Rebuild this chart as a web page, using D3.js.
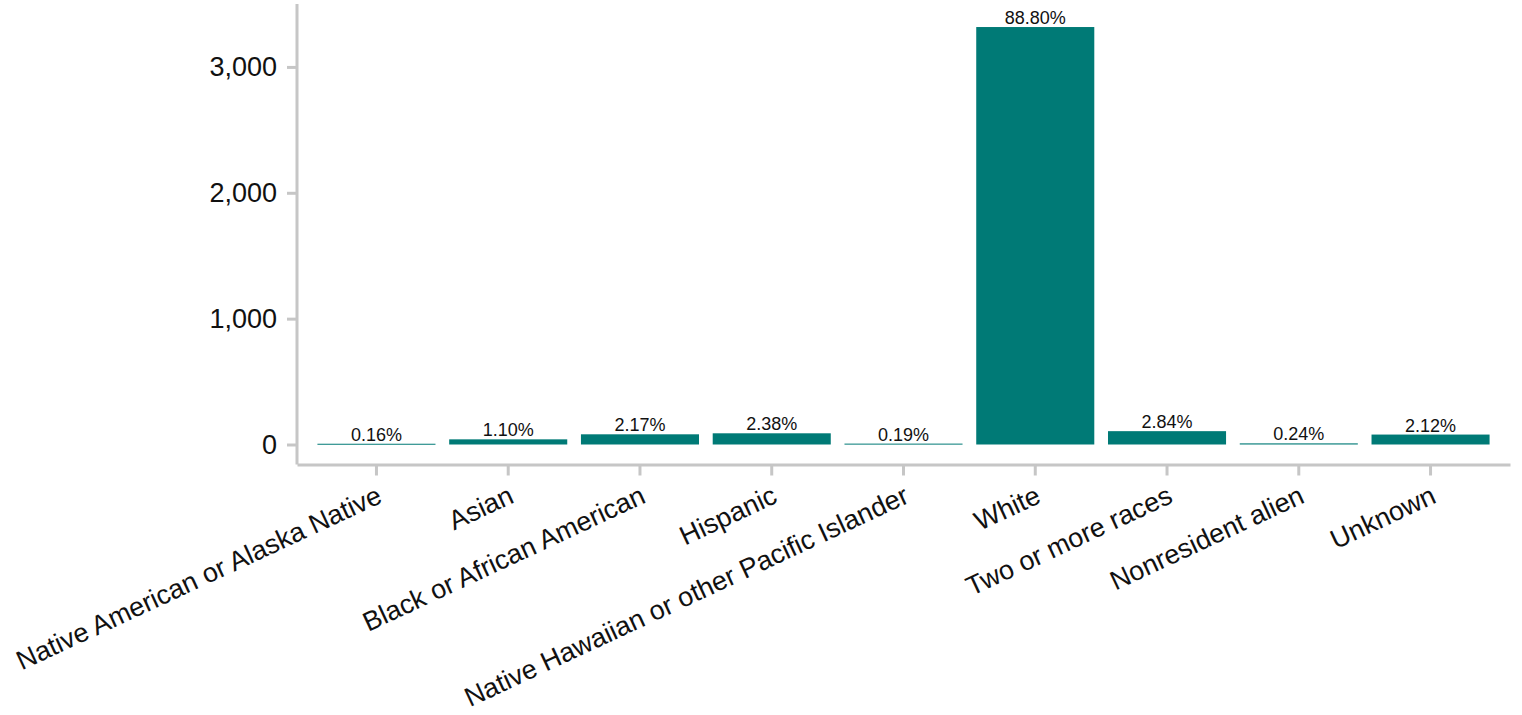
<!DOCTYPE html>
<html>
<head>
	<title>Enrollment by race/ethnicity</title>
	<style type="text/css">
		body {
			margin: 0;
			background: white;
		}
		svg text {
			font-family: "Liberation Sans", Arial, sans-serif;
		}
		.axis path, .axis line {
			stroke: #c6c6c6;
			stroke-width: 3;
		}
		.axis text {
			fill: #111;
		}
	</style>
</head>
<body>
<svg id="chart"></svg>

<script type="text/javascript" src="https://d3js.org/d3.v7.min.js"></script>
<script type="text/javascript">
	var categories = [
		"Native American or Alaska Native",
		"Asian",
		"Black or African American",
		"Hispanic",
		"Native Hawaiian or other Pacific Islander",
		"White",
		"Two or more races",
		"Nonresident alien",
		"Unknown"
	];
	var counts = [6, 41, 81, 89, 7, 3317, 106, 9, 79];
	var shares = ["0.16%", "1.10%", "2.17%", "2.38%", "0.19%", "88.80%", "2.84%", "0.24%", "2.12%"];
	var yTicks = [0, 1000, 2000, 3000];

	var width = 1522,
		height = 715;

	var svg = d3.select("#chart")
		.attr("width", width)
		.attr("height", height)

	var x = d3.scaleBand()
		.domain(categories)
		.range([297, 1510])
		.paddingInner(0.104)
		.paddingOuter(0.155)

	var y = d3.scaleLinear()
		.domain([0, 3500])
		.range([444.5, 4])

	var axisY = y(0) + 20;

	// bars
	svg.append("g")
		.selectAll("rect")
		.data(categories)
		.enter().append("rect")
			.attr("x", d => x(d))
			.attr("width", x.bandwidth())
			.attr("y", (d, i) => y(counts[i]))
			.attr("height", (d, i) => Math.max(1, y(0) - y(counts[i])))
			.attr("fill", "#007a76")

	// percentage labels
	svg.append("g")
		.selectAll("text")
		.data(categories)
		.enter().append("text")
			.attr("x", d => x(d) + x.bandwidth() / 2)
			.attr("y", (d, i) => y(counts[i]) - 3)
			.attr("text-anchor", "middle")
			.style("font-size", "18px")
			.style("fill", "#111")
			.text((d, i) => shares[i])

	// y axis
	var gy = svg.append("g")
		.attr("class", "axis")
		.attr("transform", "translate(297,0)")
		.call(d3.axisLeft(y)
			.tickValues(yTicks)
			.tickFormat(d3.format(","))
			.tickSize(10)
			.tickPadding(10)
			.tickSizeOuter(0))

	gy.select(".domain").remove()
	gy.append("line")
		.attr("x1", 0).attr("x2", 0)
		.attr("y1", axisY).attr("y2", y.range()[1])
	gy.selectAll("text")
		.style("font-size", "27px")

	// x axis
	var gx = svg.append("g")
		.attr("class", "axis")
		.attr("transform", `translate(0,${axisY})`)
		.call(d3.axisBottom(x)
			.tickSize(11)
			.tickSizeOuter(0))

	gx.selectAll("text")
		.style("font-size", "27px")
		.attr("text-anchor", "end")
		.attr("y", 0)
		.attr("dy", "0.71em")
		.attr("transform", "translate(-1,20) rotate(-25)")
</script>
</body>
</html>
